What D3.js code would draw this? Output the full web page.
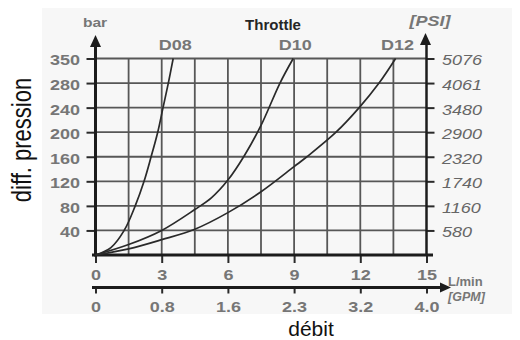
<!DOCTYPE html>
<html>
<head>
<meta charset="utf-8">
<script src="https://cdn.jsdelivr.net/npm/d3@7/dist/d3.min.js"></script>
<style>
  html, body { margin: 0; padding: 0; background: #ffffff; }
  svg { display: block; }
  text { font-family: "Liberation Sans", Arial, Helvetica, sans-serif; }
</style>
</head>
<body>
<svg id="chart" width="520" height="340"></svg>
<script>
// Flow axis (L/min) ticks and the matching GPM labels
const flowTicks = [0, 3, 6, 9, 12, 15];
const gpmLabels = ["0", "0.8", "1.6", "2.3", "3.2", "4.0"];

// Pressure axis (bar) ticks and the matching PSI labels
const barTicks = [40, 80, 120, 160, 200, 240, 280, 350];
const psiLabels = ["580", "1160", "1740", "2320", "2900", "3480", "4061", "5076"];

// Throttle curves: [flow L/min, pressure drop bar]
const throttleNames = ["D08", "D10", "D12"];
const d08 = [[0, 0], [0.7, 12], [1.3, 40], [1.8, 80], [2.2, 120], [2.52, 160], [2.82, 200], [3.06, 240], [3.3, 280], [3.52, 350]];
const d10 = [[0, 0], [1.5, 17], [3, 40], [4.5, 74], [5.25, 93], [6, 122], [6.75, 162], [7.5, 211], [8.36, 280], [8.96, 350]];
const d12 = [[0, 0], [1.5, 10], [3, 25], [4.5, 42], [6, 69], [7.5, 103], [9, 144], [9.58, 160], [10.9, 200], [11.95, 240], [12.85, 280], [13.6, 350]];
const throttleSeries = [d08, d10, d12];

const svg = d3.select("#chart");

// plot frame
const plotLeft = 95.5, plotRight = 426.5, plotBottom = 255, plotTop = 58.5;
const step = (plotBottom - plotTop) / 8;
const gridColor = "#575757";
const labelGray = "#767676";
const sx = 1.2; // horizontal stretch used for the axis lettering

const x = d3.scaleLinear().domain([0, 15]).range([plotLeft, plotRight]);
// pressure scale: evenly spaced ticks, 280 -> 350 takes one step like the others
const y = d3.scaleLinear().domain([0, 280, 350]).range([plotBottom, plotBottom - 7 * step, plotTop]);

// light panel behind the chart
svg.append("rect")
  .attr("x", 42).attr("y", 8).attr("width", 470).attr("height", 306)
  .attr("fill", "#f7f7f7");

// grid
const grid = svg.append("g");
grid.selectAll("line.h").data(barTicks).join("line")
  .attr("class", "h")
  .attr("x1", plotLeft).attr("x2", plotRight)
  .attr("y1", d => y(d)).attr("y2", d => y(d))
  .attr("stroke", gridColor).attr("stroke-width", 1.8);
grid.selectAll("line.v").data(d3.range(1.5, 15, 1.5)).join("line")
  .attr("class", "v")
  .attr("x1", d => x(d)).attr("x2", d => x(d))
  .attr("y1", plotTop).attr("y2", plotBottom)
  .attr("stroke", gridColor).attr("stroke-width", 1.8);

// left axis (bar)
const gLeft = svg.append("g").attr("transform", `translate(${plotLeft},0)`)
  .call(d3.axisLeft(y).tickValues(barTicks).tickSize(9).tickSizeOuter(0));
gLeft.select(".domain").remove();
gLeft.selectAll(".tick line").attr("stroke", "#2a2a2a").attr("stroke-width", 2);
gLeft.selectAll(".tick text")
  .attr("transform", `scale(${sx},1)`)
  .attr("x", -15.5 / sx).attr("dy", "0.36em").attr("y", 1)
  .attr("font-size", 15).attr("font-weight", "bold").attr("fill", labelGray);

// right axis (PSI)
const gRight = svg.append("g").attr("transform", `translate(${plotRight},0)`)
  .call(d3.axisRight(y).tickValues(barTicks).tickFormat((d, i) => psiLabels[i]).tickSize(8).tickSizeOuter(0));
gRight.select(".domain").remove();
gRight.selectAll(".tick line").attr("stroke", "#2a2a2a").attr("stroke-width", 2);
gRight.selectAll(".tick text")
  .attr("transform", `scale(${sx},1)`)
  .attr("x", 15.5 / sx).attr("dy", "0.36em").attr("y", 1)
  .attr("font-size", 15).attr("font-style", "italic").attr("fill", "#666");

// bottom axis (L/min)
const gBottom = svg.append("g").attr("transform", `translate(0,${plotBottom})`)
  .call(d3.axisBottom(x).tickValues(flowTicks).tickSize(8).tickSizeOuter(0));
gBottom.select(".domain").remove();
gBottom.selectAll(".tick line").attr("stroke", "#2a2a2a").attr("stroke-width", 2);
gBottom.selectAll(".tick text")
  .attr("transform", `scale(${sx},1)`)
  .attr("y", 25).attr("dy", null)
  .attr("font-size", 15).attr("font-weight", "bold").attr("fill", labelGray);

// second flow axis (GPM)
const gpmY = 287.5;
const gGpm = svg.append("g").attr("transform", `translate(0,${gpmY})`)
  .call(d3.axisBottom(x).tickValues(flowTicks).tickFormat((d, i) => gpmLabels[i]).tickSize(6).tickSizeOuter(0));
gGpm.select(".domain").remove();
gGpm.selectAll(".tick line").attr("stroke", "#2a2a2a").attr("stroke-width", 2);
gGpm.selectAll(".tick text")
  .attr("transform", `scale(${sx},1)`)
  .attr("y", 25).attr("dy", null)
  .attr("font-size", 15).attr("font-weight", "bold").attr("fill", labelGray);

// axis lines and arrow heads
const axisInk = "#1c1c1c";
svg.append("line").attr("x1", plotLeft).attr("x2", plotLeft).attr("y1", 46).attr("y2", plotBottom + 1.5)
  .attr("stroke", axisInk).attr("stroke-width", 3);
svg.append("path").attr("d", `M${plotLeft},35 L${plotLeft + 5.5},47 L${plotLeft - 5.5},47 Z`).attr("fill", axisInk);

svg.append("line").attr("x1", plotRight).attr("x2", plotRight).attr("y1", 44).attr("y2", plotBottom)
  .attr("stroke", axisInk).attr("stroke-width", 2.5);
svg.append("path").attr("d", `M${plotRight - 1},33 L${plotRight + 4.5},45 L${plotRight - 6.5},45 Z`).attr("fill", axisInk);

svg.append("line").attr("x1", 92).attr("x2", 433).attr("y1", plotBottom).attr("y2", plotBottom)
  .attr("stroke", axisInk).attr("stroke-width", 3);

svg.append("line").attr("x1", 92).attr("x2", 442).attr("y1", gpmY).attr("y2", gpmY)
  .attr("stroke", axisInk).attr("stroke-width", 3);
svg.append("path").attr("d", `M451,${gpmY} L440,${gpmY - 5} L440,${gpmY + 5} Z`).attr("fill", axisInk);

// throttle curves
const line = d3.line().x(d => x(d[0])).y(d => y(d[1])).curve(d3.curveCatmullRom.alpha(0.5));
svg.append("g").selectAll("path").data(throttleSeries).join("path")
  .attr("d", line)
  .attr("fill", "none").attr("stroke", "#2a2a2a").attr("stroke-width", 1.7);

// curve names above the ends of the curves
svg.append("g").selectAll("text").data(throttleSeries).join("text")
  .attr("transform", d => `translate(${x(d[d.length - 1][0]) + 2},50) scale(${sx},1)`)
  .attr("text-anchor", "middle")
  .attr("font-size", 15).attr("font-weight", "bold").attr("fill", labelGray)
  .text((d, i) => throttleNames[i]);

// titles and units
svg.append("text").attr("x", 273).attr("y", 30).attr("text-anchor", "middle")
  .attr("font-size", 15).attr("font-weight", "bold").attr("fill", "#262626")
  .text("Throttle");

svg.append("text").attr("transform", `translate(95,27) scale(${sx},1)`).attr("text-anchor", "middle")
  .attr("font-size", 13).attr("font-weight", "bold").attr("fill", labelGray)
  .text("bar");

svg.append("text").attr("transform", `translate(430,26) scale(${sx},1)`).attr("text-anchor", "middle")
  .attr("font-size", 15).attr("font-weight", "bold").attr("font-style", "italic").attr("fill", labelGray)
  .text("[PSI]");

svg.append("text").attr("x", 448).attr("y", 286)
  .attr("font-size", 13).attr("font-weight", "bold").attr("fill", labelGray)
  .text("L/min");

svg.append("text").attr("x", 448).attr("y", 301)
  .attr("font-size", 12.5).attr("font-weight", "bold").attr("font-style", "italic").attr("fill", labelGray)
  .text("[GPM]");

svg.append("text").attr("x", 311).attr("y", 336).attr("text-anchor", "middle")
  .attr("font-size", 21).attr("fill", "#111")
  .text("débit");

svg.append("text")
  .attr("transform", "translate(31,140) rotate(-90) scale(1,1.25)")
  .attr("text-anchor", "middle")
  .attr("font-size", 22).attr("fill", "#111")
  .text("diff. pression");
</script>
</body>
</html>
